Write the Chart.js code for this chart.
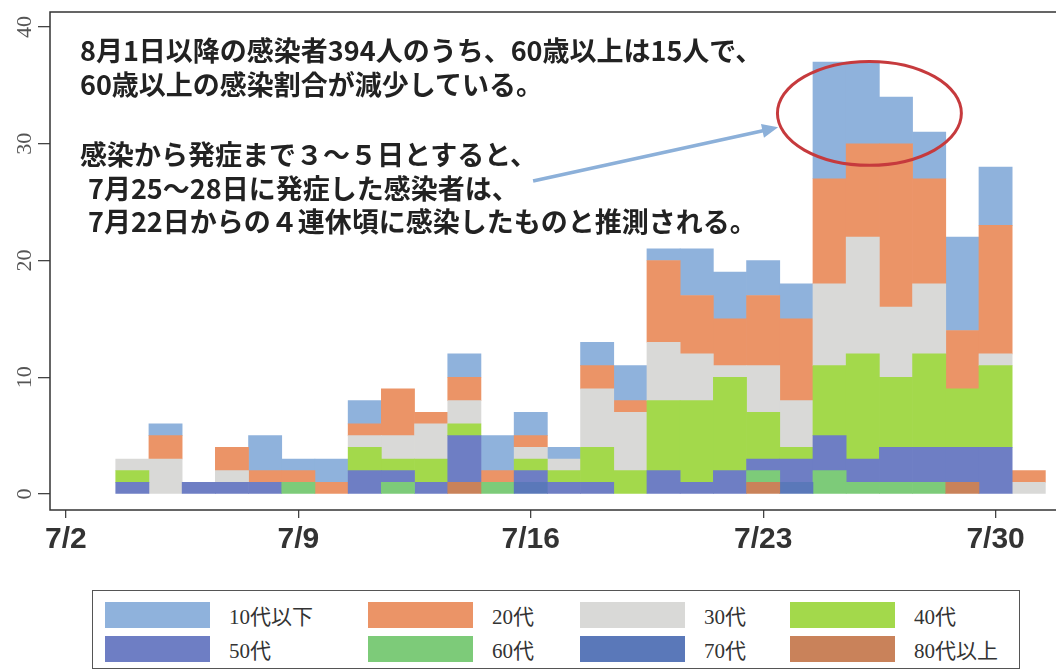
<!doctype html>
<html lang="ja">
  <head>
    <meta charset="utf-8" />
    <title>年代別 感染者数（7月）</title>
    <script src="https://cdn.jsdelivr.net/npm/chart.js"></script>
    <style>
      body { margin: 0; background: #fff; }
      #wrap { position: relative; width: 1056px; height: 671px; overflow: hidden; }
      #chart { position: absolute; left: 0; top: 0; }
      .note {
        position: absolute;
        font-family: "Noto Sans CJK JP", sans-serif;
        font-weight: bold;
        font-size: 27px;
        line-height: 1;
        color: #222;
        white-space: nowrap;
      }
      #legend {
        position: absolute; left: 92px; top: 590px; width: 928px; height: 79px;
        border: 1.5px solid #555; box-sizing: border-box;
      }
      .item { position: absolute; display: flex; align-items: center; }
      .swatch { width: 105px; height: 26px; }
      .label {
        margin-left: 19px;
        font-family: "Liberation Serif", "Noto Sans CJK JP", serif;
        font-size: 21px;
        color: #333;
      }
    </style>
  </head>
  <body>
    <div id="wrap">
      <canvas id="chart" width="1056" height="580"></canvas>
      <div class="note" style="left:80px; top:36px">8月1日以降の感染者394人のうち、60歳以上は15人で、</div>
      <div class="note" style="left:80px; top:70px">60歳以上の感染割合が減少している。</div>
      <div class="note" style="left:80px; top:140px">感染から発症まで３～５日とすると、</div>
      <div class="note" style="left:88px; top:174px">7月25～28日に発症した感染者は、</div>
      <div class="note" style="left:88px; top:207px">7月22日からの４連休頃に感染したものと推測される。</div>
      <div id="legend"></div>
    </div>
    <script>
      // 7/2 .. 7/31
      const days = ["7/2", "7/3", "7/4", "7/5", "7/6", "7/7", "7/8", "7/9", "7/10", "7/11",
        "7/12", "7/13", "7/14", "7/15", "7/16", "7/17", "7/18", "7/19", "7/20", "7/21",
        "7/22", "7/23", "7/24", "7/25", "7/26", "7/27", "7/28", "7/29", "7/30", "7/31"];
      const xTickDays = ["7/2", "7/9", "7/16", "7/23", "7/30"];
      const yTicks = [0, 10, 20, 30, 40];

      const groups = ["10代以下", "20代", "30代", "40代", "50代", "60代", "70代", "80代以上"];
      const colors = ["#8fb2dc", "#eb9467", "#d9d9d7", "#a3d94b", "#6e7ec4", "#7dcb79", "#5a78b9", "#c9825a"];

      const age10 = [0, 0, 0, 1, 0, 0, 3, 1, 2, 2, 0, 0, 2, 3, 2, 1, 2, 3, 1, 4, 4, 3, 3, 10, 7, 4, 4, 8, 5, 0];
      const age20 = [0, 0, 0, 2, 0, 2, 1, 1, 1, 1, 4, 1, 2, 1, 1, 0, 2, 1, 7, 5, 4, 6, 7, 9, 8, 14, 9, 5, 11, 1];
      const age30 = [0, 0, 1, 3, 0, 1, 0, 0, 0, 1, 2, 3, 2, 0, 1, 1, 5, 5, 5, 4, 1, 4, 4, 7, 10, 6, 6, 0, 1, 1];
      const age40 = [0, 0, 1, 0, 0, 0, 0, 0, 0, 2, 1, 2, 1, 0, 1, 1, 3, 2, 6, 7, 8, 4, 1, 6, 9, 6, 8, 5, 7, 0];
      const age50 = [0, 0, 1, 0, 1, 1, 1, 0, 0, 2, 1, 1, 4, 0, 1, 1, 1, 0, 2, 1, 2, 1, 2, 3, 2, 3, 3, 3, 4, 0];
      const age60 = [0, 0, 0, 0, 0, 0, 0, 1, 0, 0, 1, 0, 0, 1, 0, 0, 0, 0, 0, 0, 0, 1, 0, 2, 1, 1, 1, 0, 0, 0];
      const age70 = [0, 0, 0, 0, 0, 0, 0, 0, 0, 0, 0, 0, 0, 0, 1, 0, 0, 0, 0, 0, 0, 0, 1, 0, 0, 0, 0, 0, 0, 0];
      const age80 = [0, 0, 0, 0, 0, 0, 0, 0, 0, 0, 0, 0, 1, 0, 0, 0, 0, 0, 0, 0, 0, 1, 0, 0, 0, 0, 0, 1, 0, 0];
      const series = [age10, age20, age30, age40, age50, age60, age70, age80];

      // arrow and red ring, in data units (day index, count)
      const arrowFrom = [14.07, 26.8];
      const arrowTo = [21.45, 31.4];
      const ring = { x: 24.2, y: 32.6, rx: 2.77, ry: 4.45 };

      // oldest group at the bottom of each stack; zero days left empty
      const datasets = groups
        .map((g, i) => ({
          label: g,
          data: series[i].map((v, d) => ({ x: d, y: v || null })),
          backgroundColor: colors[i],
          borderWidth: 0,
          barPercentage: 1,
          categoryPercentage: 1,
        }))
        .reverse();

      const extras = {
        id: "extras",
        afterDatasetsDraw(chart) {
          const { ctx, scales: { x, y } } = chart;
          ctx.save();
          // arrow
          const x0 = x.getPixelForValue(arrowFrom[0]), y0 = y.getPixelForValue(arrowFrom[1]);
          const x1 = x.getPixelForValue(arrowTo[0]), y1 = y.getPixelForValue(arrowTo[1]);
          const ang = Math.atan2(y1 - y0, x1 - x0);
          ctx.strokeStyle = "#8cb0d9";
          ctx.fillStyle = "#8cb0d9";
          ctx.lineWidth = 3.5;
          ctx.beginPath();
          ctx.moveTo(x0, y0);
          ctx.lineTo(x1 - 12 * Math.cos(ang), y1 - 12 * Math.sin(ang));
          ctx.stroke();
          ctx.beginPath();
          ctx.moveTo(x1, y1);
          ctx.lineTo(x1 - 16 * Math.cos(ang) + 7 * Math.sin(ang), y1 - 16 * Math.sin(ang) - 7 * Math.cos(ang));
          ctx.lineTo(x1 - 16 * Math.cos(ang) - 7 * Math.sin(ang), y1 - 16 * Math.sin(ang) + 7 * Math.cos(ang));
          ctx.closePath();
          ctx.fill();
          // red ring
          const cx = x.getPixelForValue(ring.x), cy = y.getPixelForValue(ring.y);
          const rx = x.getPixelForValue(ring.x + ring.rx) - cx;
          const ry = cy - y.getPixelForValue(ring.y + ring.ry);
          ctx.strokeStyle = "#c63a3d";
          ctx.lineWidth = 3;
          ctx.beginPath();
          ctx.ellipse(cx, cy, rx, ry, 0, 0, Math.PI * 2);
          ctx.stroke();
          ctx.restore();
        },
        afterDraw(chart) {
          const { ctx, chartArea: a } = chart;
          ctx.save();
          ctx.strokeStyle = "#333";
          ctx.lineWidth = 1.5;
          ctx.strokeRect(a.left, a.top, a.right - a.left + 10, a.bottom - a.top);
          ctx.restore();
        },
      };

      new Chart(document.getElementById("chart"), {
        type: "bar",
        data: { datasets },
        plugins: [extras],
        options: {
          responsive: false,
          animation: false,
          layout: { padding: { top: 12, left: 0, right: 0, bottom: 0 } },
          plugins: { legend: { display: false }, tooltip: { enabled: false } },
          scales: {
            x: {
              type: "linear",
              stacked: true,
              offset: false,
              min: -0.48,
              max: 29.82,
              afterBuildTicks: (s) => { s.ticks = xTickDays.map((d) => ({ value: days.indexOf(d) })); },
              afterFit: (s) => { s.height = 70; s.paddingLeft = 0; s.paddingRight = 0; },
              border: { display: false },
              grid: { offset: false, drawOnChartArea: false, tickLength: 8, color: "#444", lineWidth: 1.3 },
              ticks: {
                padding: 4,
                color: "#333",
                font: { family: "Liberation Sans", size: 30, weight: "bold" },
                callback: (v) => days[v],
              },
            },
            y: {
              stacked: true,
              min: -1.37,
              max: 41.28,
              afterBuildTicks: (s) => { s.ticks = yTicks.map((v) => ({ value: v })); },
              afterFit: (s) => { s.width = 50; s.paddingTop = 0; s.paddingBottom = 0; },
              border: { display: false },
              grid: { drawOnChartArea: false, tickLength: 12, color: "#444", lineWidth: 1.3 },
              ticks: {
                minRotation: 90,
                maxRotation: 90,
                crossAlign: "center",
                padding: 2,
                color: "#555",
                font: { family: "Liberation Serif", size: 22 },
              },
            },
          },
        },
      });

      // legend box, two rows of four
      const legendCols = [12, 275, 487, 697];
      const legendRows = [9, 43];
      const legend = document.getElementById("legend");
      groups.forEach((g, i) => {
        const item = document.createElement("div");
        item.className = "item";
        item.style.left = legendCols[i % 4] + "px";
        item.style.top = legendRows[Math.floor(i / 4)] + "px";
        item.innerHTML = `<span class="swatch" style="background:${colors[i]}"></span><span class="label">${g}</span>`;
        legend.appendChild(item);
      });
    </script>
  </body>
</html>
